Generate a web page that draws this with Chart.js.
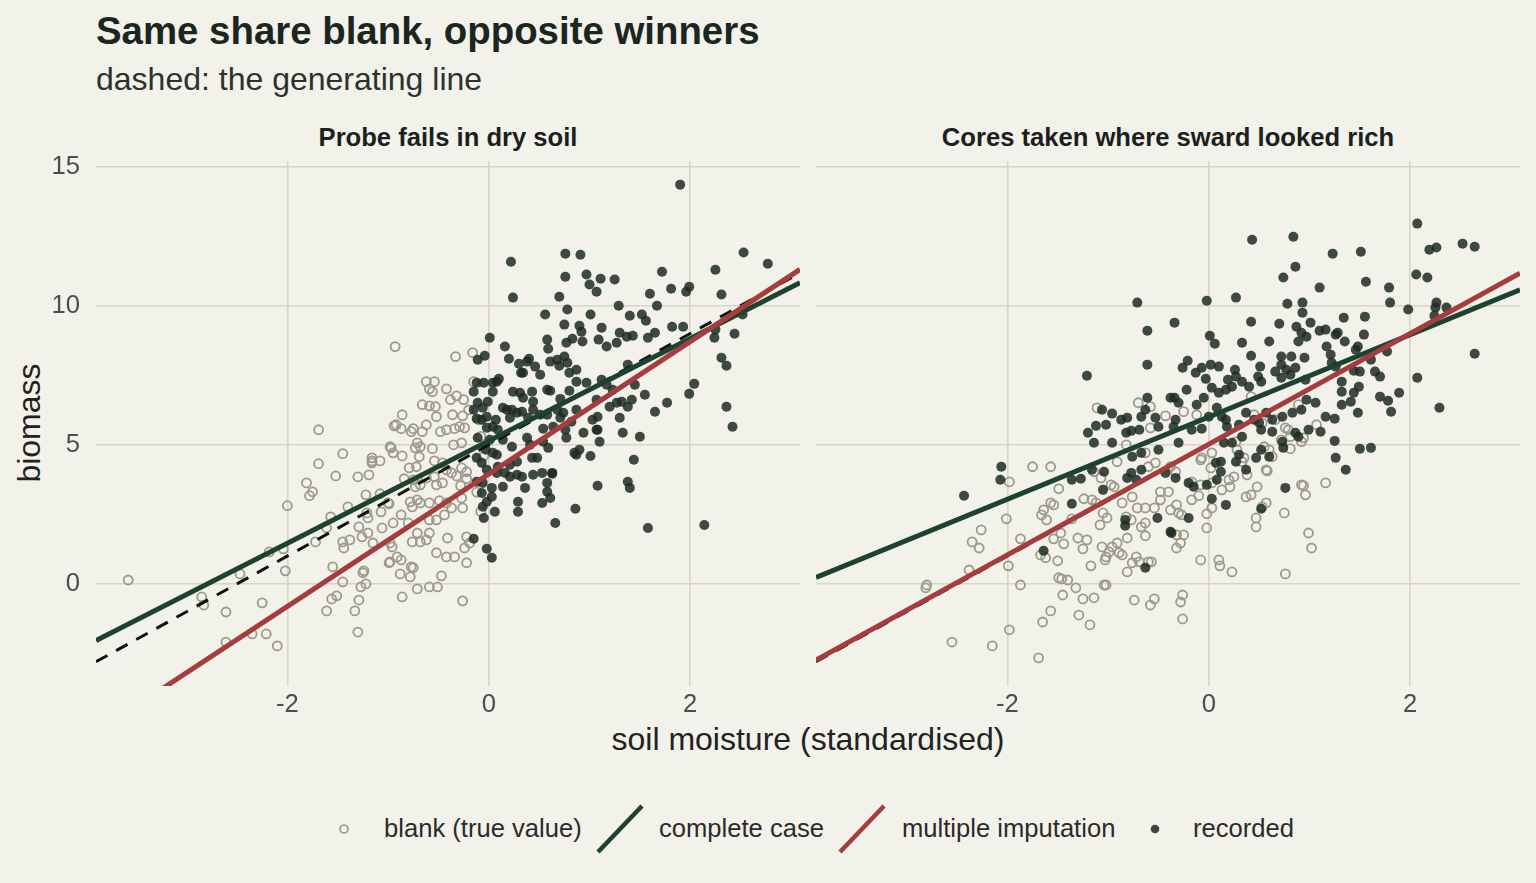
<!DOCTYPE html>
<html>
<head>
<meta charset="utf-8">
<script src="https://cdn.jsdelivr.net/npm/chart.js@4.4.1/dist/chart.umd.min.js"></script>
<style>
  html, body { margin: 0; padding: 0; background: #f2f1ea; }
  body { width: 1536px; height: 883px; position: relative; overflow: hidden;
         font-family: 'Liberation Sans', Arial, Helvetica, sans-serif; }
  .abs { position: absolute; white-space: nowrap; line-height: 1; }
  #title { left: 96px; top: 12px; font-size: 38.4px; font-weight: bold; color: #1b2620; }
  #subtitle { left: 96px; top: 63px; font-size: 32px; color: #2b332e; }
  .strip { top: 125px; width: 704px; text-align: center; font-size: 25.6px; font-weight: bold; color: #1b1f1d; }
  #xtitle { left: 96px; width: 1424px; top: 723px; text-align: center; font-size: 32px; color: #222; }
  #ytitle { left: -71px; top: 407px; width: 200px; height: 32px; text-align: center; font-size: 32px; color: #222;
            transform: rotate(-90deg); transform-origin: 50% 50%; }
  .leg { top: 816px; font-size: 25.6px; color: #2b2b2b; }
  canvas { position: absolute; }
</style>
</head>
<body>
<div class="abs" id="title">Same share blank, opposite winners</div>
<div class="abs" id="subtitle">dashed: the generating line</div>
<div class="abs strip" style="left:96px">Probe fails in dry soil</div>
<div class="abs strip" style="left:816px">Cores taken where sward looked rich</div>
<div class="abs" id="ytitle">biomass</div>
<div class="abs" id="xtitle">soil moisture (standardised)</div>

<canvas id="leftPanel" width="808" height="580" style="left:0;top:150px"></canvas>
<canvas id="rightPanel" width="712" height="580" style="left:816px;top:150px"></canvas>

<svg style="position:absolute;left:0;top:790px" width="1536" height="80">
  <circle cx="344" cy="39" r="4" fill="none" stroke="#9b9a8b" stroke-width="1.7"/>
  <line x1="598" y1="62" x2="642" y2="16" stroke="#1d4330" stroke-width="4.5"/>
  <line x1="840" y1="62" x2="884" y2="16" stroke="#a63d3d" stroke-width="4.5"/>
  <circle cx="1155" cy="39" r="4.3" fill="#3c4640"/>
</svg>
<div class="abs leg" style="left:384px">blank (true value)</div>
<div class="abs leg" style="left:659px">complete case</div>
<div class="abs leg" style="left:902px">multiple imputation</div>
<div class="abs leg" style="left:1193px">recorded</div>

<script>
// ---------- Data ----------
const xRange = [-3.9, 3.09];
const yRange = [-3.67, 15.2];
const xTicks = [-2, 0, 2];
const yTicks = [0, 5, 10, 15];

// fitted lines: [intercept, slope]
const truthLine = [5, 2];
const leftComplete = [5.14, 1.84];
const leftImputed = [3.95, 2.38];
const rightComplete = [6.0, 1.48];
const rightImputed = [5.02, 1.99];

// panel 1: probe fails in dry soil
const leftBlank = [
  [-3.58,0.14],[-1.69,5.54],[-1.45,4.68],[-1.69,4.32],[-1.81,3.63],[-1.75,3.31],[-1.78,3.17],[-2.00,2.81],
  [-1.52,3.88],[-1.30,3.85],[-1.19,3.92],[-1.16,4.42],[-1.08,4.42],[-0.97,4.89],[-0.94,5.68],[-1.22,3.20],
  [-1.40,2.77],[-1.57,2.41],[-1.61,2.01],[-1.29,2.05],[-1.20,2.37],[-1.20,1.83],[-1.26,1.69],[-1.45,1.51],
  [-1.38,1.58],[-1.44,1.29],[-1.15,1.47],[-1.06,2.01],[-0.99,2.88],[-1.72,1.51],[-2.18,1.15],[-2.04,1.26],
  [-2.47,0.36],[-2.02,0.47],[-1.55,0.61],[-1.45,0.07],[-1.24,0.47],[-1.25,0.40],[-1.27,-0.11],[-1.22,0.00],
  [-1.56,-0.54],[-1.51,-0.43],[-1.29,-0.58],[-1.61,-0.97],[-1.33,-0.97],[-1.30,-1.73],[-2.85,-0.47],[-2.83,-0.76],
  [-2.61,-1.01],[-2.25,-0.68],[-2.61,-2.09],[-2.35,-1.80],[-2.21,-1.80],[-2.10,-2.23],[-0.99,0.76],[-0.96,1.33],
  [-0.95,2.19],[-0.93,8.53],[-0.33,8.17],[-0.16,8.31],[-0.62,7.27],[-0.54,7.27],[-0.59,7.01],[-0.56,6.91],
  [-0.42,7.01],[-0.15,7.27],[-0.38,6.62],[-0.32,6.76],[-0.25,6.62],[-0.66,6.44],[-0.59,6.40],[-0.53,6.37],
  [-0.86,6.08],[-0.52,6.01],[-0.36,6.08],[-0.26,6.04],[-0.20,6.26],[-0.92,5.72],[-0.87,5.58],[-0.75,5.58],
  [-0.62,5.72],[-0.48,5.47],[-0.42,5.54],[-0.34,5.58],[-0.29,5.65],[-0.24,5.61],[-0.77,5.47],[-0.66,5.47],
  [-0.71,5.07],[-0.73,4.89],[-0.68,4.93],[-0.56,4.86],[-0.35,5.00],[-0.27,5.07],[-0.98,4.93],[-0.95,4.71],
  [-0.86,4.60],[-1.16,4.53],[-1.16,4.35],[-0.79,4.17],[-0.72,4.21],[-0.69,4.57],[-0.54,4.42],[-0.46,4.35],
  [-0.42,4.10],[-0.37,3.99],[-0.32,3.88],[-0.27,4.17],[-0.22,4.03],[-0.84,3.78],[-0.75,3.74],[-0.68,3.56],
  [-0.73,3.49],[-0.62,3.81],[-0.54,3.85],[-0.52,3.56],[-0.46,3.63],[-0.28,3.53],[-0.22,3.78],[-1.08,3.24],
  [-1.00,2.91],[-1.21,2.55],[-1.07,2.59],[-0.87,2.48],[-0.76,2.77],[-0.78,2.95],[-0.71,3.02],[-0.68,2.91],
  [-0.59,2.91],[-0.49,2.99],[-0.42,2.91],[-0.44,2.48],[-0.52,2.30],[-0.59,2.30],[-0.27,3.09],[-0.26,2.73],
  [-0.37,2.73],[-0.80,2.19],[-0.71,1.83],[-0.68,1.51],[-0.76,1.51],[-0.62,1.58],[-0.59,1.83],[-0.98,1.47],
  [-0.41,1.65],[-0.22,1.69],[-0.24,1.29],[-0.19,1.47],[-0.52,1.12],[-0.42,0.97],[-0.34,0.97],[-0.22,0.76],
  [-0.98,0.79],[-0.91,0.97],[-0.87,0.86],[-0.88,0.36],[-0.78,0.25],[-0.75,0.58],[-0.77,0.61],[-0.47,0.29],
  [-0.59,-0.11],[-0.51,-0.11],[-0.71,-0.18],[-0.86,-0.47],[-0.26,-0.61],[-0.10,5.90],[-0.08,5.30],[-0.05,4.60],
  [-0.12,3.30],[-0.08,2.60]
];
const leftRecorded = [
  [0.01,8.85],[0.16,8.53],[-0.04,8.20],[-0.11,8.06],[0.20,8.09],[0.30,7.91],[0.38,7.99],[0.40,8.09],
  [0.34,7.59],[0.32,7.59],[0.46,7.81],[0.51,7.52],[0.58,8.78],[0.59,8.45],[0.61,7.99],[0.68,8.06],
  [0.70,7.84],[0.75,8.17],[0.77,8.67],[0.83,8.81],[0.78,7.95],[0.80,7.59],[0.87,7.70],[-0.12,7.23],
  [-0.05,7.23],[0.04,7.23],[0.08,7.27],[0.10,7.37],[-0.15,6.91],[0.04,6.91],[0.24,6.91],[0.31,6.87],
  [0.43,6.91],[0.34,6.69],[0.44,6.55],[0.58,6.98],[0.61,6.94],[0.80,6.94],[0.87,7.27],[0.71,6.65],
  [-0.01,6.55],[-0.11,6.51],[-0.15,6.26],[-0.06,6.33],[-0.02,6.01],[-0.07,5.90],[-0.12,5.94],[0.07,5.90],
  [-0.02,5.61],[0.04,5.65],[0.09,5.54],[0.14,6.33],[0.18,6.26],[0.28,6.15],[0.23,6.26],[0.33,6.19],
  [0.21,5.97],[0.39,5.97],[0.44,6.26],[0.51,6.08],[0.58,6.08],[0.68,6.26],[0.74,6.15],[0.71,5.97],
  [0.87,6.26],[0.82,5.83],[0.76,5.54],[0.64,5.65],[0.54,5.58],[-0.11,5.25],[0.01,5.18],[-0.03,4.82],
  [-0.12,4.53],[-0.07,4.35],[0.04,4.71],[0.08,4.64],[0.14,5.18],[0.23,4.93],[0.38,5.25],[0.41,5.00],
  [0.54,5.11],[0.59,4.89],[0.77,5.25],[0.87,4.64],[0.43,4.53],[0.48,4.53],[0.28,4.39],[0.21,4.28],
  [0.09,4.21],[-0.02,4.10],[0.08,3.99],[0.16,3.99],[0.21,3.85],[0.28,3.92],[0.33,3.85],[0.44,3.92],
  [0.53,3.99],[0.63,3.99],[0.58,3.63],[0.58,3.31],[0.61,3.09],[0.53,2.91],[0.36,3.45],[0.29,2.95],
  [0.29,2.59],[0.14,3.49],[0.03,3.45],[-0.06,3.63],[-0.12,3.67],[-0.07,3.27],[0.03,3.13],[-0.02,2.95],
  [-0.06,2.77],[0.06,2.59],[-0.05,2.37],[-0.15,1.62],[-0.02,1.26],[0.03,0.94],[0.66,2.19],[0.86,2.70],
  [1.90,14.35],[0.22,11.58],[0.76,11.87],[0.91,11.83],[0.24,10.29],[0.76,11.04],[0.97,11.12],[1.11,10.97],
  [1.25,10.94],[1.00,10.76],[1.07,10.50],[0.70,10.32],[1.72,11.22],[1.81,10.61],[1.96,10.50],[1.99,10.68],
  [2.25,11.29],[2.53,11.91],[2.77,11.51],[2.31,10.40],[0.56,9.68],[0.78,9.86],[1.01,9.68],[0.75,9.32],
  [0.90,9.28],[0.92,9.06],[1.12,9.21],[1.29,10.00],[1.40,9.64],[1.52,9.68],[1.56,9.46],[1.60,10.43],
  [1.67,10.00],[0.93,8.71],[1.09,8.78],[1.27,8.67],[1.17,8.53],[1.30,9.03],[1.37,8.88],[1.43,8.92],
  [1.58,8.85],[1.65,9.03],[1.82,9.24],[1.93,9.24],[2.25,9.14],[2.24,8.85],[2.44,8.99],[2.52,9.68],
  [2.31,8.13],[2.36,7.84],[2.04,7.19],[1.99,6.83],[1.77,6.51],[1.65,6.19],[2.36,6.37],[2.42,5.65],
  [1.38,7.88],[1.45,7.16],[1.55,6.80],[1.42,6.62],[1.32,6.55],[1.20,6.37],[1.07,6.62],[1.08,6.01],
  [1.07,5.54],[1.50,5.29],[1.30,5.97],[1.33,5.43],[1.12,7.34],[1.17,7.16],[1.23,6.98],[1.27,6.51],
  [1.38,6.37],[1.44,4.46],[1.38,3.67],[1.40,3.45],[1.08,3.53],[1.58,2.01],[2.14,2.12],[1.01,4.60],
  [0.90,4.82],[0.85,4.71],[1.10,5.11],[1.08,5.54],[1.03,5.90],[0.94,5.43],[0.63,3.96],[0.97,7.23]
];

// panel 2: cores taken where sward looked rich
const rightBlank = [
  [-1.75,4.21],[-1.57,4.21],[-1.98,3.67],[-1.49,3.42],[-2.01,2.34],[-2.26,1.94],[-2.35,1.51],[-2.28,1.29],
  [-2.38,0.50],[-2.80,-0.04],[-2.81,-0.14],[-1.87,1.62],[-1.99,0.65],[-1.87,-0.04],[-2.55,-2.09],[-2.15,-2.23],
  [-1.98,-1.65],[-1.69,-2.66],[-1.57,2.91],[-1.64,2.66],[-1.66,2.48],[-1.61,2.30],[-1.54,2.84],[-1.47,1.83],
  [-1.54,1.62],[-1.44,1.44],[-1.67,1.04],[-1.62,0.94],[-1.50,0.83],[-1.49,0.22],[-1.46,0.18],[-1.40,0.14],
  [-1.32,-0.14],[-1.45,-0.40],[-1.25,-0.54],[-1.14,-0.50],[-1.57,-0.97],[-1.65,-1.37],[-1.29,-1.12],[-1.18,-1.47],
  [-1.04,-0.04],[-1.02,-0.04],[-0.74,-0.58],[-0.54,-0.54],[-0.58,-0.76],[-0.26,-0.40],[-0.28,-0.65],[-0.26,-1.26],
  [-1.24,3.06],[-1.16,3.02],[-1.12,2.91],[-1.36,2.34],[-1.30,1.65],[-1.21,1.58],[-1.25,1.26],[-1.17,0.65],
  [-1.08,2.12],[-1.01,2.37],[-1.05,2.55],[-0.94,3.49],[-0.97,3.56],[-1.07,3.81],[-1.14,4.03],[-0.91,4.39],
  [-0.82,5.00],[-1.06,1.33],[-0.99,1.15],[-1.02,0.97],[-0.96,1.33],[-0.91,1.47],[-0.89,1.12],[-0.86,1.04],
  [-0.81,1.65],[-1.03,0.86],[-0.86,2.91],[-0.76,3.13],[-0.67,2.05],[-0.63,2.19],[-0.63,1.73],[-0.71,2.73],
  [-0.63,2.73],[-0.54,2.73],[-0.82,2.41],[-0.77,2.30],[-0.72,0.97],[-0.76,0.76],[-0.81,0.43],[-0.69,0.79],
  [-0.60,0.79],[-0.57,0.79],[-0.48,3.31],[-0.48,3.02],[-0.40,3.31],[-0.38,2.66],[-0.32,2.84],[-0.30,2.55],
  [-0.27,2.48],[-0.17,3.02],[-0.10,3.17],[-0.08,3.56],[-0.17,3.67],[-0.33,4.03],[-0.38,4.21],[-0.53,4.35],
  [-0.60,4.21],[-0.63,4.71],[-0.58,5.61],[-0.08,4.46],[-0.02,2.01],[-0.08,0.86],[-0.25,1.76],[-0.32,1.76],
  [-0.28,1.47],[-0.32,1.29],[-1.11,6.33],[-0.70,6.51],[-0.58,6.37],[-0.43,6.04],[-0.25,6.19],[-0.12,6.08],
  [0.42,6.73],[0.45,6.08],[0.53,5.79],[0.66,5.90],[0.76,5.61],[0.81,5.29],[0.92,5.11],[0.94,5.25],
  [1.07,5.72],[0.89,6.44],[0.72,5.18],[0.60,4.82],[0.57,4.10],[0.33,4.39],[0.27,5.11],[0.28,4.82],
  [0.03,4.71],[-0.07,4.53],[0.02,4.17],[0.58,4.06],[0.48,3.49],[0.37,3.13],[0.42,3.20],[0.57,2.91],
  [0.53,2.77],[0.47,2.37],[0.47,2.05],[0.75,2.55],[0.94,3.53],[0.96,3.20],[0.99,1.83],[1.16,3.63],
  [0.20,3.74],[0.25,3.85],[0.13,3.38],[0.03,3.63],[0.79,5.54],[0.81,4.86],[0.55,4.93],[0.63,4.57],
  [0.35,4.53],[0.92,3.56],[1.02,1.29],[0.76,0.36],[0.23,0.43],[0.10,0.86],[0.11,0.65],[-0.02,2.52],
  [0.38,3.92],[0.21,3.49],[0.03,2.73]
];
const rightRecorded = [
  [-2.06,4.21],[-2.07,3.74],[-2.43,3.17],[-1.36,2.88],[-1.64,1.19],[-0.63,0.58],[-1.36,3.74],[-1.27,3.78],
  [-1.04,4.03],[-1.05,3.38],[-1.16,4.10],[-0.83,2.30],[-0.83,2.09],[-0.51,2.37],[-0.37,1.83],[-0.20,2.37],
  [-1.20,5.43],[-1.12,5.68],[-1.02,5.72],[-1.14,5.07],[-0.96,5.07],[-0.82,5.43],[-0.77,5.50],[-0.69,5.54],
  [-0.76,4.57],[-0.67,4.71],[-0.50,4.82],[-0.77,3.99],[-0.72,3.74],[-0.81,3.81],[-0.43,3.99],[-0.33,3.81],
  [-0.30,5.07],[-0.20,3.63],[-0.15,3.49],[-0.02,3.56],[-0.17,5.54],[-0.07,5.58],[-0.35,5.65],[-0.50,5.65],
  [-0.71,10.11],[-0.02,10.18],[0.27,10.29],[-0.34,9.39],[-0.61,9.10],[-0.61,7.88],[-1.21,7.48],[0.01,8.92],
  [0.06,8.63],[0.33,8.67],[0.42,9.42],[0.60,8.71],[0.70,9.35],[0.78,10.07],[0.93,10.11],[0.93,9.75],
  [1.01,9.39],[0.87,9.24],[0.92,9.03],[0.97,8.88],[0.89,8.71],[1.10,10.65],[1.10,9.10],[1.16,9.14],
  [1.17,8.53],[0.72,8.17],[0.82,8.17],[0.95,8.13],[0.42,8.20],[0.51,7.81],[0.26,7.70],[0.10,7.81],
  [0.02,7.88],[-0.07,7.77],[-0.13,7.59],[-0.21,8.02],[-0.26,7.77],[0.72,7.88],[0.77,7.70],[0.86,7.77],
  [0.81,7.52],[0.72,7.41],[0.66,7.63],[0.49,7.45],[0.52,7.27],[0.40,7.09],[0.33,7.27],[0.27,7.45],
  [0.19,7.34],[0.23,7.09],[0.17,6.98],[-0.03,7.37],[0.03,7.05],[0.10,6.87],[-0.05,6.69],[-0.12,6.44],
  [-0.22,6.98],[-0.30,6.51],[-0.38,6.69],[-0.34,6.69],[-0.61,6.69],[-0.63,6.26],[-0.67,6.01],[-0.53,5.97],
  [-0.33,5.90],[0.00,6.01],[0.08,6.33],[0.13,6.01],[0.17,5.90],[0.18,5.65],[0.30,5.72],[0.37,6.15],
  [0.45,5.90],[0.57,6.15],[0.63,5.90],[0.73,6.01],[0.83,6.15],[0.92,6.26],[0.97,6.62],[1.06,6.51],
  [1.16,6.01],[1.11,5.47],[0.99,5.54],[0.89,5.29],[0.86,5.43],[0.73,5.11],[0.74,4.89],[0.63,5.47],
  [0.52,5.54],[0.50,5.79],[0.33,5.29],[0.23,5.07],[0.15,5.07],[-1.06,6.26],[-0.96,6.12],[-0.87,5.90],
  [-0.81,5.97],[-0.67,4.10],[0.07,4.35],[0.12,4.03],[0.12,4.39],[0.27,4.39],[0.30,4.64],[0.37,4.10],
  [0.47,4.53],[0.52,4.82],[0.60,4.57],[0.76,3.45],[0.52,2.70],[0.17,2.84],[0.03,3.06],[-0.38,1.87],
  [0.43,12.37],[0.84,12.48],[1.23,11.87],[1.51,11.94],[0.86,11.40],[0.74,11.01],[1.56,10.86],[2.07,12.95],
  [2.19,12.01],[2.26,12.09],[2.52,12.23],[2.64,12.12],[2.06,11.12],[2.17,11.01],[1.79,10.65],[1.80,10.11],
  [1.98,9.86],[2.26,10.11],[2.36,9.93],[2.25,9.93],[2.24,9.64],[2.64,8.27],[2.07,7.41],[2.29,6.33],
  [1.34,9.57],[1.55,9.60],[1.26,8.96],[1.28,9.03],[1.35,8.71],[1.54,8.96],[1.48,8.53],[1.46,8.42],
  [1.21,8.24],[1.77,8.35],[1.61,8.06],[1.65,7.63],[1.70,7.45],[1.50,7.63],[1.44,7.66],[1.49,7.09],
  [1.44,6.87],[1.32,7.27],[1.32,6.91],[1.22,7.95],[1.26,7.81],[0.96,7.34],[1.89,6.87],[1.70,6.73],
  [1.78,6.58],[1.81,6.19],[1.48,6.15],[1.41,6.55],[1.32,6.44],[1.25,5.94],[1.25,5.14],[1.50,4.86],
  [1.61,4.89],[1.26,4.53],[1.36,4.10],[0.08,3.74]
];

// ---------- Styles ----------
const FONT = "'Liberation Sans', Arial, Helvetica, sans-serif";
const GRID = '#d7d6c4';
const GREEN = '#1d4330';
const RED = '#a63d3d';

const pts = arr => arr.map(p => ({ x: p[0], y: p[1] }));
const lineData = fit => xRange.map(x => ({ x, y: fit[0] + fit[1] * x }));

// the panels are placed by hand, so stop Chart.js from reserving room for edge labels
const noPad = s => { s.paddingTop = 0; s.paddingBottom = 0; s.paddingLeft = 0; s.paddingRight = 0; };

function buildPanel (id, blank, recorded, fitCC, fitMI, showY) {
  return new Chart(document.getElementById(id), {
    type: 'scatter',
    data: {
      datasets: [
        { type: 'line', data: lineData(fitMI), borderColor: RED, borderWidth: 5, pointRadius: 0, clip: 0, order: 1 },
        { type: 'line', data: lineData(fitCC), borderColor: GREEN, borderWidth: 5, pointRadius: 0, clip: 0, order: 2 },
        { type: 'line', data: lineData(truthLine), borderColor: '#111', borderWidth: 3, borderDash: [13, 10],
          pointRadius: 0, clip: 0, order: 3 },
        { data: pts(recorded), backgroundColor: 'rgba(30,44,36,0.85)', borderWidth: 0, pointRadius: 5, order: 4 },
        { data: pts(blank), backgroundColor: 'rgba(0,0,0,0)', borderColor: '#9b9a8b', borderWidth: 1.8,
          pointRadius: 4.5, order: 5 }
      ]
    },
    options: {
      responsive: false,
      animation: false,
      layout: { autoPadding: false, padding: { top: 11, right: 8, left: 0, bottom: 0 } },
      plugins: { legend: { display: false }, tooltip: { enabled: false } },
      scales: {
        x: {
          type: 'linear', min: xRange[0], max: xRange[1],
          afterBuildTicks: s => { s.ticks = xTicks.map(v => ({ value: v })); },
          afterFit: s => { s.height = 44; noPad(s); },
          grid: { color: GRID, lineWidth: 1.6, drawTicks: false },
          border: { display: false },
          ticks: { color: '#4d4d4d', font: { family: FONT, size: 25.6 }, padding: 4, maxRotation: 0,
                   callback: v => String(v) }
        },
        y: {
          type: 'linear', min: yRange[0], max: yRange[1],
          afterBuildTicks: s => { s.ticks = yTicks.map(v => ({ value: v })); },
          afterFit: s => { s.width = showY ? 96 : 0; noPad(s); },
          grid: { color: GRID, lineWidth: 1.6, drawTicks: false },
          border: { display: false },
          ticks: { display: showY, color: '#4d4d4d', font: { family: FONT, size: 25.6 }, padding: 16,
                   callback: v => String(v) }
        }
      }
    }
  });
}

buildPanel('leftPanel', leftBlank, leftRecorded, leftComplete, leftImputed, true);
buildPanel('rightPanel', rightBlank, rightRecorded, rightComplete, rightImputed, false);
</script>
</body>
</html>
